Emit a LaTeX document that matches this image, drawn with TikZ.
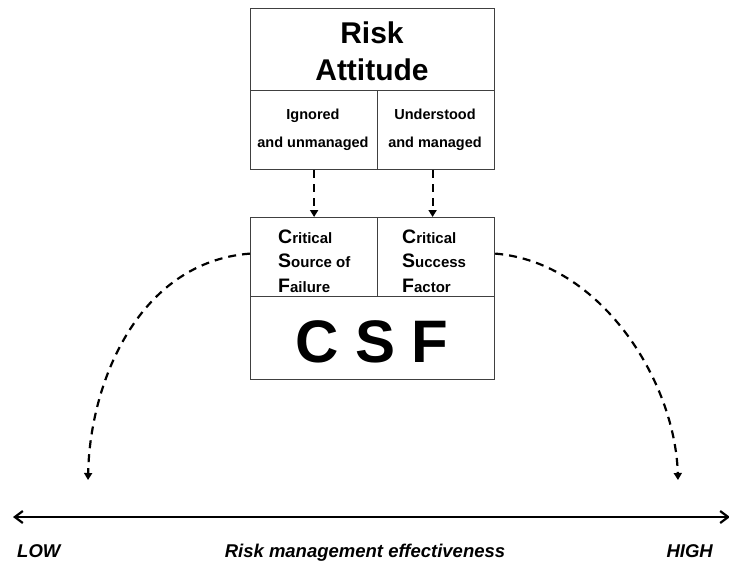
\documentclass[tikz,border=0pt]{standalone}
\usepackage{fontspec}
\setmainfont{Liberation Sans}
\usetikzlibrary{arrows.meta}
\begin{document}
\begin{tikzpicture}[x=1pt,y=-1pt,
  cell/.style={draw=black!75,line width=1.2pt,inner sep=0pt,anchor=north west},
  lbl/.style={inner sep=0pt,anchor=base,font=\bfseries},
  dlink/.style={line width=2.2pt,dash pattern=on 8pt off 6pt,-{Triangle[length=7pt,width=8pt]}},
]
\useasboundingbox (0,0) rectangle (729,563);
% boxes
\node[cell,minimum width=244pt,minimum height=82pt] (title) at (250,8) {};
\node[cell,minimum width=127pt,minimum height=79pt] (ign) at (250,90) {};
\node[cell,minimum width=117pt,minimum height=79pt] (und) at (377,90) {};
\node[cell,minimum width=127pt,minimum height=79pt] (fail) at (250,217) {};
\node[cell,minimum width=117pt,minimum height=79pt] (succ) at (377,217) {};
\node[cell,minimum width=244pt,minimum height=83pt] (csf) at (250,296) {};
% texts
\node[lbl,font=\bfseries\fontsize{30}{36}\selectfont] (t1) at (372,43) {Risk};
\node[lbl,font=\bfseries\fontsize{30}{36}\selectfont] (t2) at (372,80) {Attitude};
\node[lbl,font=\bfseries\fontsize{14.5}{17}\selectfont] (i1) at (313,119) {Ignored};
\node[lbl,font=\bfseries\fontsize{14.5}{17}\selectfont] (i2) at (313,147) {and unmanaged};
\node[lbl,font=\bfseries\fontsize{14.5}{17}\selectfont] (u1) at (435,119) {Understood};
\node[lbl,font=\bfseries\fontsize{14.5}{17}\selectfont] (u2) at (435,147) {and managed};
\node[lbl,anchor=base west,font=\bfseries\fontsize{15}{18}\selectfont] (f1) at (278,243) {{\fontsize{19.5}{20}\selectfont C}ritical};
\node[lbl,anchor=base west,font=\bfseries\fontsize{15}{18}\selectfont] (f2) at (278,267) {{\fontsize{19.5}{20}\selectfont S}ource of};
\node[lbl,anchor=base west,font=\bfseries\fontsize{15}{18}\selectfont] (f3) at (278,292) {{\fontsize{19.5}{20}\selectfont F}ailure};
\node[lbl,anchor=base west,font=\bfseries\fontsize{15}{18}\selectfont] (s1) at (402,243) {{\fontsize{19.5}{20}\selectfont C}ritical};
\node[lbl,anchor=base west,font=\bfseries\fontsize{15}{18}\selectfont] (s2) at (402,267) {{\fontsize{19.5}{20}\selectfont S}uccess};
\node[lbl,anchor=base west,font=\bfseries\fontsize{15}{18}\selectfont] (s3) at (402,292) {{\fontsize{19.5}{20}\selectfont F}actor};
\node[lbl,font=\bfseries\fontsize{60}{66}\selectfont] (big) at (372,362) {C S F};
% dashed links
\draw[dlink] (ign.south) -- (fail.north);
\draw[dlink] ([xshift=-3.5pt]und.south) -- ([xshift=-3.5pt]succ.north);
\coordinate (lowend) at (88,480);
\coordinate (highend) at (678,480);
\draw[dlink] ([yshift=3.5pt]fail.west) .. controls (140,262) and (90,380) .. (lowend);
\draw[dlink] ([yshift=3.5pt]succ.east) .. controls (600,262) and (675,380) .. (highend);
% axis
\coordinate (axl) at (13,517);
\coordinate (axr) at (730,517);
\draw[line width=2.2pt,{Straight Barb[length=8pt,width=12pt]}-{Straight Barb[length=8pt,width=12pt]}] (axl) -- (axr);
\node[lbl,anchor=base west,font=\bfseries\itshape\fontsize{18.5}{20}\selectfont] (low) at (17,557) {LOW};
\node[lbl,font=\bfseries\itshape\fontsize{18.5}{20}\selectfont] (mid) at (365,557) {Risk management effectiveness};
\node[lbl,anchor=base east,font=\bfseries\itshape\fontsize{18.5}{20}\selectfont] (high) at (713,557) {HIGH};
\end{tikzpicture}
\end{document}
